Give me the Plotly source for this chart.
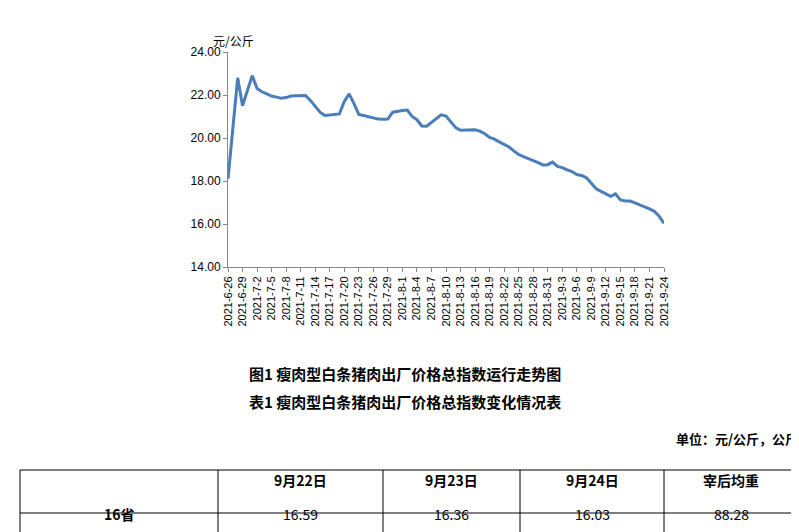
import plotly.graph_objects as go
import datetime as dt

start = dt.date(2021, 6, 26)
values = [18.10,20.50,22.80,21.50,22.20,22.90,22.30,22.15,22.05,21.95,21.90,21.85,21.88,21.95,21.97,21.98,21.98,21.75,21.45,21.20,
21.05,21.07,21.10,21.12,21.70,22.05,21.60,21.10,21.05,21.00,20.95,20.88,20.87,20.88,21.20,21.25,21.28,21.30,21.00,20.85,
20.56,20.55,20.72,20.90,21.08,21.02,20.75,20.48,20.36,20.36,20.38,20.38,20.32,20.20,20.03,19.95,19.82,19.70,19.58,19.40,
19.23,19.13,19.05,18.95,18.85,18.75,18.76,18.88,18.68,18.62,18.52,18.44,18.30,18.26,18.15,17.90,17.64,17.52,17.40,17.29,
17.40,17.12,17.07,17.07,16.98,16.90,16.80,16.70,16.59,16.36,16.03]
dates = [(start + dt.timedelta(days=i)) for i in range(len(values))]
labels = [f"{d.year}-{d.month}-{d.day}" for d in dates]
tick_labels = labels[::3]

table_header = ["", "9月22日", "9月23日", "9月24日", "宰后均重"]
table_row = ["16省", "16.59", "16.36", "16.03", "88.28"]

W, H = 799, 532
def px(x): return x / W
def py(y): return 1 - y / H

fig = go.Figure(go.Scatter(x=labels, y=values, mode="lines",
                           line=dict(color="#4a7ebb", width=3), hoverinfo="skip"))
font = "Noto Sans CJK SC"
fig.update_layout(
    width=W, height=H, margin=dict(l=0, r=0, t=0, b=0, autoexpand=False),
    paper_bgcolor="white", plot_bgcolor="white", showlegend=False,
    font=dict(family=font, color="black"),
    xaxis=dict(domain=[px(220), px(656)], type="category", tickmode="array",
               tickvals=tick_labels, ticktext=tick_labels, tickangle=-90, automargin=False,
               tickfont=dict(size=11, family="Liberation Sans"), showline=True, linecolor="#888",
               ticks="outside", ticklen=4, tickcolor="#888", showgrid=False,
               range=[0, len(values) - 1]),
    yaxis=dict(domain=[py(259), py(44)], range=[14, 24], dtick=2, tickformat=".2f", automargin=False,
               tickfont=dict(size=12, family="Liberation Sans"), showline=True, linecolor="#888",
               ticks="outside", ticklen=4, tickcolor="#888", showgrid=False, zeroline=False),
)
ann = [
    dict(x=px(203), y=py(22), text="元/公斤", font=dict(size=12), xanchor="left"),
    dict(x=px(397), y=py(378), text="<b>图1 瘦肉型白条猪肉出厂价格总指数运行走势图</b>", font=dict(size=15)),
    dict(x=px(397), y=py(406), text="<b>表1 瘦肉型白条猪肉出厂价格总指数变化情况表</b>", font=dict(size=15)),
    dict(x=px(792), y=py(442), text="<b>单位：元/公斤，公斤</b>", font=dict(size=13), xanchor="right"),
]
cols = [12, 210, 375, 512, 656, 790]
shapes = []
for yv in [462, 505]:
    shapes.append(dict(type="line", xref="paper", yref="paper", x0=px(12), x1=px(790), y0=py(yv), y1=py(yv), line=dict(color="black", width=1)))
for xv in cols:
    shapes.append(dict(type="line", xref="paper", yref="paper", x0=px(xv), x1=px(xv), y0=py(462), y1=0, line=dict(color="black", width=1)))
for i in range(5):
    cx = (cols[i] + cols[i + 1]) / 2
    ann.append(dict(x=px(cx), y=py(484), text=f"<b>{table_header[i]}</b>", font=dict(size=14)))
    t = f"<b>{table_row[i]}</b>" if i == 0 else table_row[i]
    ann.append(dict(x=px(cx), y=py(518), text=t, font=dict(size=14)))
for a in ann:
    a.update(xref="paper", yref="paper", showarrow=False)
    a.setdefault("xanchor", "center")
fig.update_layout(annotations=ann, shapes=shapes)
fig.write_html("out.html")
